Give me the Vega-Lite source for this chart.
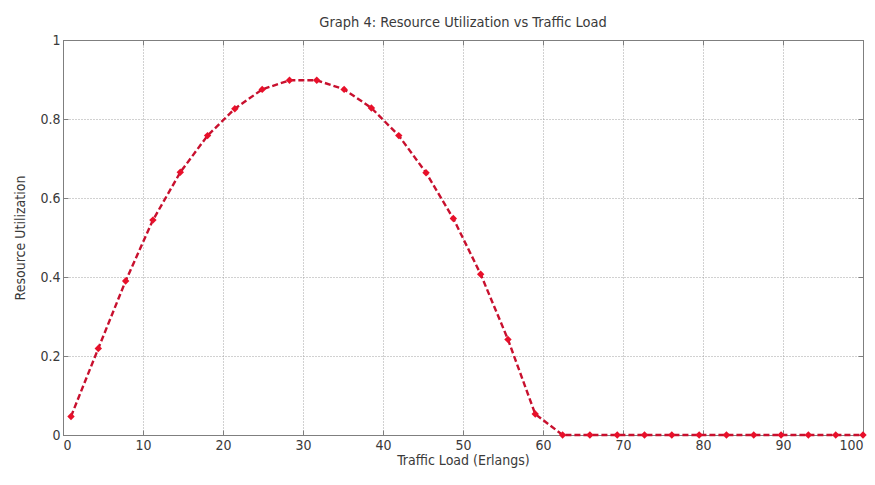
{
  "$schema": "https://vega.github.io/schema/vega-lite/v6.json",
  "width": 800,
  "height": 395,
  "autosize": {"type": "none"},
  "padding": {"left": 63, "top": 40, "right": 12, "bottom": 50},
  "background": "white",
  "title": {
    "text": "Graph 4: Resource Utilization vs Traffic Load",
    "font": "DejaVu Sans Condensed, Roboto, sans-serif",
    "fontSize": 14.5,
    "fontWeight": "normal",
    "color": "#3a3a3a",
    "anchor": "middle",
    "offset": 3
  },
  "config": {
    "view": {"stroke": "#7f7f7f", "strokeWidth": 1},
    "axis": {
      "labelFont": "DejaVu Sans Condensed, Roboto, sans-serif",
      "titleFont": "DejaVu Sans Condensed, Roboto, sans-serif",
      "labelFontSize": 14,
      "titleFontSize": 14,
      "titleFontWeight": "normal",
      "labelColor": "#3a3a3a",
      "titleColor": "#3a3a3a",
      "domainColor": "#7f7f7f",
      "tickColor": "#7f7f7f",
      "gridColor": "#9a9a9a",
      "gridDash": [1, 2],
      "gridOpacity": 0.9
    }
  },
  "data": {
    "values": [
      {"load": 1.0, "util": 0.047},
      {"load": 4.41, "util": 0.219},
      {"load": 7.83, "util": 0.39},
      {"load": 11.24, "util": 0.544},
      {"load": 14.66, "util": 0.665},
      {"load": 18.07, "util": 0.758},
      {"load": 21.48, "util": 0.826},
      {"load": 24.9, "util": 0.875},
      {"load": 28.31, "util": 0.898},
      {"load": 31.72, "util": 0.898},
      {"load": 35.14, "util": 0.875},
      {"load": 38.55, "util": 0.828},
      {"load": 41.97, "util": 0.758},
      {"load": 45.38, "util": 0.664},
      {"load": 48.79, "util": 0.548},
      {"load": 52.21, "util": 0.407},
      {"load": 55.62, "util": 0.242},
      {"load": 59.03, "util": 0.053},
      {"load": 62.45, "util": 0.0},
      {"load": 65.86, "util": 0.0},
      {"load": 69.28, "util": 0.0},
      {"load": 72.69, "util": 0.0},
      {"load": 76.1, "util": 0.0},
      {"load": 79.52, "util": 0.0},
      {"load": 82.93, "util": 0.0},
      {"load": 86.34, "util": 0.0},
      {"load": 89.76, "util": 0.0},
      {"load": 93.17, "util": 0.0},
      {"load": 96.59, "util": 0.0},
      {"load": 100.0, "util": 0.0}
    ]
  },
  "layer": [
    {
      "mark": {"type": "line", "color": "#c8102e", "strokeWidth": 2.4, "strokeDash": [6, 3], "clip": false},
      "encoding": {
        "x": {
          "field": "load", "type": "quantitative",
          "scale": {"domain": [0, 100], "nice": false},
          "axis": {"title": "Traffic Load (Erlangs)", "values": [0,10,20,30,40,50,60,70,80,90,100], "tickSize": -5, "labelPadding": 8, "titlePadding": 1, "grid": true}
        },
        "y": {
          "field": "util", "type": "quantitative",
          "scale": {"domain": [0, 1], "nice": false},
          "axis": {"title": "Resource Utilization", "values": [0,0.2,0.4,0.6,0.8,1], "labelExpr": "datum.value == 0 ? '0' : datum.value == 1 ? '1' : format(datum.value, '.1f')", "tickSize": -5, "labelPadding": 8, "titlePadding": 12, "grid": true}
        }
      }
    },
    {
      "mark": {"type": "point", "shape": "diamond", "filled": true, "color": "#e8102a", "size": 55, "opacity": 1, "clip": false},
      "encoding": {
        "x": {
          "field": "load", "type": "quantitative",
          "axis": {"orient": "top", "title": null, "labels": false, "values": [0,10,20,30,40,50,60,70,80,90,100], "tickSize": -5, "grid": false}
        },
        "y": {
          "field": "util", "type": "quantitative",
          "axis": {"orient": "right", "title": null, "labels": false, "values": [0,0.2,0.4,0.6,0.8,1], "tickSize": -5, "grid": false}
        }
      }
    }
  ],
  "resolve": {"axis": {"x": "independent", "y": "independent"}}
}
